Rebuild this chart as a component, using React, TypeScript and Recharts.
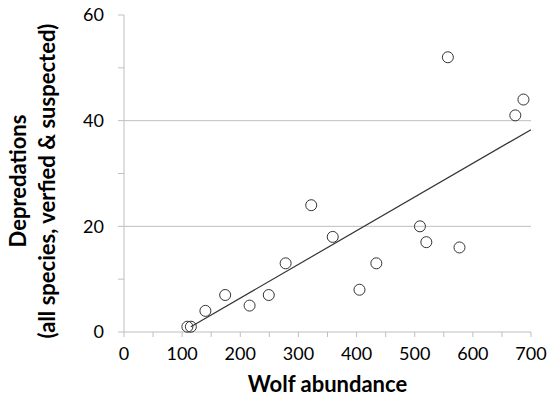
import { ScatterChart, Scatter, XAxis, YAxis, ReferenceLine } from 'recharts';

const wolves = [109, 115, 140, 174, 216, 249, 278, 322, 359, 405, 434, 509, 520, 557, 577, 673, 687];
const depredations = [1, 1, 4, 7, 5, 7, 13, 24, 18, 8, 13, 20, 17, 52, 16, 41, 44];
const trendX = [115, 700];
const trendY = [1, 38.3];
const xTicks = [0, 50, 100, 150, 200, 250, 300, 350, 400, 450, 500, 550, 600, 650, 700];
const yTicks = [0, 10, 20, 30, 40, 50, 60];
const gridValues = [20, 40];

const points = wolves.map((w, i) => ({ x: w, y: depredations[i] }));
const trend = trendX.map((x, i) => ({ x, y: trendY[i] }));

const font = 'Lato, "Open Sans", sans-serif';

const Ring = (props: any) => (
  <circle cx={props.cx} cy={props.cy} r={5.5} fill="none" stroke="#333" strokeWidth={1} />
);

const YLabel = () => (
  <g fontFamily={font} fontWeight={700} fontSize={22} fill="#000">
    <text x={17} y={181} textAnchor="middle" dominantBaseline="central" transform="rotate(-90, 17, 181)">
      Depredations
    </text>
    <text x={46} y={181} textAnchor="middle" dominantBaseline="central" transform="rotate(-90, 46, 181)">
      (all species, verfied &amp; suspected)
    </text>
  </g>
);

export default function App() {
  return (
    <div style={{ position: 'absolute', left: 0, top: 0, background: '#fff' }}>
      <ScatterChart width={549} height={397} margin={{ top: 15, right: 18, bottom: 35, left: 64 }}>
        {gridValues.map((v) => (
          <ReferenceLine key={v} y={v} stroke="#bfbfbf" strokeWidth={1} />
        ))}
        <XAxis
          type="number"
          dataKey="x"
          domain={[0, 700]}
          ticks={xTicks}
          interval={0}
          tickFormatter={(v: number) => (v % 100 === 0 ? String(v) : '')}
          stroke="#bfbfbf"
          tickSize={5}
          tickMargin={10}
          height={30}
          tick={{ fill: '#000', fontSize: 18, fontFamily: font }}
          label={{
            value: 'Wolf abundance',
            position: 'insideBottom',
            offset: -30,
            fill: '#000',
            fontSize: 22,
            fontWeight: 700,
            fontFamily: font,
          }}
        />
        <YAxis
          type="number"
          dataKey="y"
          domain={[0, 60]}
          ticks={yTicks}
          interval={0}
          tickFormatter={(v: number) => (v % 20 === 0 ? String(v) : '')}
          stroke="#bfbfbf"
          tickSize={6}
          tickMargin={14}
          width={60}
          tick={{ fill: '#000', fontSize: 18, fontFamily: font }}
          label={<YLabel />}
        />
        <Scatter
          data={trend}
          line={{ stroke: '#333', strokeWidth: 1.2 }}
          shape={() => <g />}
          isAnimationActive={false}
        />
        <Scatter data={points} shape={Ring} isAnimationActive={false} />
      </ScatterChart>
    </div>
  );
}
